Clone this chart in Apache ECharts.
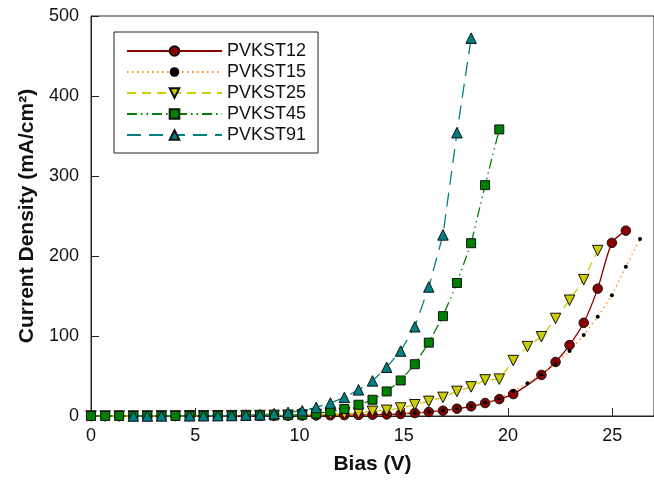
<!DOCTYPE html>
<html>
<head>
<meta charset="utf-8">
<script src="https://cdn.jsdelivr.net/npm/echarts@6/dist/echarts.min.js"></script>
<style>
  html, body { margin: 0; padding: 0; background: #fff; }
  #chart { width: 654px; height: 480px; }
</style>
</head>
<body>
<div id="chart"></div>
<script>
// Bias sweep (V), one entry per measurement step
const bias = [0, 0.68, 1.35, 2.03, 2.70, 3.38, 4.05, 4.73, 5.40, 6.08,
  6.75, 7.43, 8.10, 8.78, 9.45, 10.13, 10.80, 11.48, 12.15, 12.83,
  13.50, 14.18, 14.85, 15.53, 16.20, 16.88, 17.55, 18.23, 18.90, 19.58,
  20.25, 20.93, 21.60, 22.28, 22.95, 23.63, 24.30, 24.98, 25.65, 26.33];

// Current density (mA/cm2) per device; null = no reading at that step
const pvkst12 = [0, 0, 0, 0, 0, 0, 0.1, 0.1, 0.1, 0.2,
  0.2, 0.3, 0.3, 0.4, 0.5, 0.6, 0.7, 0.9, 1.1, 1.3,
  1.6, 2.0, 2.5, 3.7, 5.0, 6.6, 9.1, 12.1, 16.2, 21.1,
  27.4, null, 51.4, 67.5, 88.7, 116.5, 159.2, 216.4, 231.7, null];
const pvkst15 = [0, 0, 0, 0, 0, 0, 0.1, 0.1, 0.1, 0.2,
  0.2, 0.3, 0.4, 0.5, 0.6, 0.7, 0.9, 1.1, 1.3, 1.6,
  2.0, 2.4, 2.9, 3.9, 5.2, 7.0, 9.5, 12.5, 16.5, 22.0,
  31.5, 41.0, 52.0, 65.0, 81.2, 101.1, 124.0, 150.9, 186.6, 221.4];
const pvkst25 = [0, 0, 0, 0, 0, 0.1, 0.1, 0.2, 0.2, 0.3,
  0.4, 0.5, 0.6, 0.8, 1.0, 1.3, 1.7, 2.2, 2.9, 3.7,
  5.8, 7.1, 10.0, 14.1, 18.3, 23.3, 30.7, 36.4, 45.1, 46.0,
  69.3, 86.7, 99.1, 121.9, 144.7, 170.4, 206.8, null, null, null];
const pvkst45 = [0, 0, 0, 0, 0, 0, 0, 0.1, 0.1, 0.2,
  0.2, 0.3, 0.5, 0.7, 1.0, 1.6, 2.9, 5.8, 8.7, 14.1,
  20.3, 30.7, 44.4, 64.7, 91.7, 124.8, 166.3, 216.0, 288.6, 358.2,
  null, null, null, null, null, null, null, null, null, null];
const pvkst91 = [null, null, null, 0, 0, 0.1, null, 0.2, 0.3, 0.4,
  0.6, 1.2, 1.6, 2.9, 4.6, 6.6, 10.8, 16.2, 23.3, 32.7,
  43.9, 60.9, 81.2, 111.6, 161.3, 226.4, 354.1, 472.3, null, null,
  null, null, null, null, null, null, null, null, null, null];

const xTicks = { min: 0, max: 27, interval: 5 };
const yTicks = { min: 0, max: 500, interval: 100 };

function pairs(values) {
  const out = [];
  values.forEach((v, i) => { if (v !== null) out.push([bias[i], v]); });
  return out;
}

const font = 'Liberation Sans, Arial, sans-serif';

function lineSeries(name, values, opts) {
  return Object.assign({
    name: name,
    type: 'line',
    data: pairs(values),
    symbolSize: 9.5,
    showAllSymbol: true,
    clip: false,
    itemStyle: { color: opts.fill, borderColor: '#111', borderWidth: 1 },
    lineStyle: { color: opts.line, width: 1.3, type: opts.dash }
  }, opts.extra || {});
}

const chart = echarts.init(document.getElementById('chart'), null, { renderer: 'canvas' });
chart.setOption({
  animation: false,
  backgroundColor: '#fff',
  grid: { left: 91, right: -3, top: 16, bottom: 62, show: true, borderColor: '#222', borderWidth: 1 },
  legend: {
    orient: 'vertical',
    left: 114, top: 32,
    padding: [10, 12, 9, 12],
    itemWidth: 95, itemHeight: 12, itemGap: 3,
    borderColor: '#222', borderWidth: 1,
    textStyle: { fontFamily: font, fontSize: 18, color: '#111' },
    data: ['PVKST12', 'PVKST15', 'PVKST25', 'PVKST45', 'PVKST91']
  },
  xAxis: {
    type: 'value', min: xTicks.min, max: xTicks.max, interval: xTicks.interval,
    name: 'Bias (V)', nameLocation: 'middle', nameGap: 38,
    nameTextStyle: { fontFamily: font, fontSize: 21, fontWeight: 'bold', color: '#111' },
    axisLine: { lineStyle: { color: '#222', width: 1 } },
    axisTick: { inside: true, length: 8, lineStyle: { color: '#222' } },
    axisLabel: { fontFamily: font, fontSize: 18, color: '#111', margin: 11, showMaxLabel: false },
    splitLine: { show: false }
  },
  yAxis: {
    type: 'value', min: yTicks.min, max: yTicks.max, interval: yTicks.interval,
    name: 'Current Density (mA/cm²)', nameLocation: 'middle', nameGap: 53,
    nameTextStyle: { fontFamily: font, fontSize: 21, fontWeight: 'bold', color: '#111' },
    axisLine: { show: true, lineStyle: { color: '#222', width: 1 } },
    axisTick: { show: true, inside: true, length: 8, lineStyle: { color: '#222' } },
    axisLabel: { fontFamily: font, fontSize: 18, color: '#111', margin: 12 },
    splitLine: { show: false }
  },
  series: [
    lineSeries('PVKST12', pvkst12, { fill: '#8b0000', line: '#8b0000', dash: 'solid',
      extra: { symbol: 'circle', smooth: 0.25 } }),
    lineSeries('PVKST15', pvkst15, { fill: '#000', line: '#ff8c00', dash: [1.5, 3.5],
      extra: { symbol: 'circle', symbolSize: 4, itemStyle: { color: '#000', borderWidth: 0 } } }),
    lineSeries('PVKST25', pvkst25, { fill: '#cccc00', line: '#cccc00', dash: [9, 6],
      extra: { symbol: 'triangle', symbolRotate: 180, symbolSize: 10.5 } }),
    lineSeries('PVKST45', pvkst45, { fill: '#008000', line: '#008000', dash: [10, 4, 1.5, 4, 1.5, 4],
      extra: { symbol: 'rect', symbolSize: 9 } }),
    lineSeries('PVKST91', pvkst91, { fill: '#008080', line: '#008080', dash: [14, 8],
      extra: { symbol: 'triangle', symbolSize: 10.5 } })
  ]
});
</script>
</body>
</html>
